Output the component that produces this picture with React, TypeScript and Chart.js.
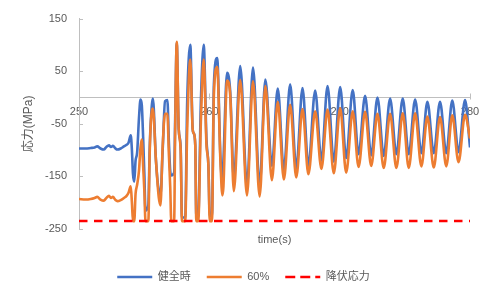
import React, { useEffect, useRef } from "react";
import { Chart, registerables } from "chart.js";

Chart.register(...registerables);

// time (s)
const times = [
  250.0, 250.5, 250.9, 251.2, 251.4, 251.65, 251.9, 252.1, 252.3, 252.45,
  252.6, 252.8, 252.95, 253.2, 253.45, 253.65, 253.8, 253.97, 254.06, 254.14,
  254.24, 254.34, 254.46, 254.6, 254.72, 254.82, 254.92, 255.02, 255.1, 255.32,
  255.42, 255.52, 255.67, 255.9, 256.12, 256.25, 256.42, 256.6, 256.78, 256.9,
  257.0, 257.08, 257.3, 257.38, 257.5, 257.65, 257.8, 257.9, 258.15, 258.3,
  258.54, 258.72, 258.8, 258.92, 259.0, 259.15, 259.35, 259.57, 259.78, 259.93,
  260.03, 260.2, 260.35, 260.6, 260.85, 261.0, 261.08, 261.36, 261.6, 261.88,
  262.37, 262.89, 263.35, 263.86, 264.3, 264.8, 265.25, 265.72, 266.2, 266.67,
  267.15, 267.6, 268.12, 268.6, 269.07, 269.55, 270.04, 270.5, 271.0, 271.45,
  271.95, 272.42, 272.9, 273.38, 273.87, 274.35, 274.84, 275.3, 275.79, 276.27,
  276.73, 277.22, 277.7, 278.18, 278.64, 279.12, 279.62, 280.0,
];

// 健全時 (MPa)
const healthy = [
  -97, -97, -96, -95, -93, -97, -99, -94, -91, -94,
  -92, -97, -99, -97, -93, -90, -86, -72, -100, -145,
  -160, -120, -105, -40, -4, -15, -75, -150, -215, -205,
  -100, -40, -2, -118, -178, -186, -100, -7, -5, -87,
  -140, -148, -143, -40, 103, -60, -95, -228, -228, -9,
  100, -60, -68, -90, -225, -225, -9, 100, -80, -130,
  -225, -225, 25, 75, -112, -160, -120, 47, 12, -155,
  60, -168, 57, -168, 34, -130, 17, -138, 25, -135,
  18, -130, 13, -120, 22, -122, 20, -115, 14, -108,
  3, -110, 0, -111, -2, -108, -2, -108, -4, -106,
  -8, -106, -8, -106, -6, -104, -5, -95,
];

// 60% (MPa)
const reduced60 = [
  -193, -194, -193, -191, -189, -194, -196, -191, -187, -191,
  -189, -195, -197, -195, -191, -187, -181, -169, -200, -235,
  -235, -183, -166, -140, -95, -80, -130, -180, -235, -235,
  -110, -45, -21, -118, -190, -205, -93, -31, -31, -110,
  -170, -235, -235, -60, 106, -60, -100, -235, -235, -62,
  72, -60, -68, -90, -235, -235, -46, 72, -90, -130,
  -235, -235, 6, 58, -120, -186, -170, 32, 5, -178,
  33, -186, 31, -188, 22, -157, -8, -156, -14, -152,
  -22, -146, -26, -136, -23, -144, -20, -143, -26, -132,
  -27, -130, -31, -134, -31, -134, -30, -134, -30, -131,
  -36, -133, -37, -131, -34, -123, -33, -78,
];

// 降伏応力 (MPa)
const yieldTimes = [250, 280];
const yieldStress = [-235, -235];

const seriesLabels = ["健全時", "60%", "降伏応力"];
const xTitle = "time(s)";
const yTitle = "応力(MPa)";

const FONT = '"Liberation Sans", "Noto Sans CJK JP", sans-serif';
const TEXT = "#595959";
const AXIS = "#BFBFBF";

const tickMarks = {
  id: "tickMarks",
  beforeDatasetsDraw(chart: any) {
    const { ctx } = chart;
    const xs = chart.scales.x;
    const ys = chart.scales.y;
    const y0 = ys.getPixelForValue(0);
    ctx.save();
    ctx.strokeStyle = AXIS;
    ctx.lineWidth = 1;
    ctx.beginPath();
    ys.ticks.forEach((t: any) => {
      const py = Math.round(ys.getPixelForValue(t.value)) + 0.5;
      ctx.moveTo(ys.right, py);
      ctx.lineTo(ys.right + 4, py);
    });
    xs.ticks.forEach((t: any) => {
      if (t.value === xs.min) return;
      const px = Math.round(xs.getPixelForValue(t.value)) + 0.5;
      ctx.moveTo(px, y0 - 4);
      ctx.lineTo(px, y0 + 2);
    });
    ctx.stroke();
    ctx.restore();
  },
};

export default function App() {
  const ref = useRef<HTMLCanvasElement>(null);

  useEffect(() => {
    if (!ref.current) return;
    const toXY = (xs: number[], ys: number[]) => xs.map((x, i) => ({ x, y: ys[i] }));
    const font = { size: 11, family: FONT };
    const chart = new Chart(ref.current, {
      type: "line",
      data: {
        datasets: [
          {
            label: seriesLabels[2],
            data: toXY(yieldTimes, yieldStress),
            borderColor: "#FF0000",
            backgroundColor: "#FF0000",
            borderWidth: 2.5,
            borderDash: [8.5, 6.5],
            pointRadius: 0,
            fill: false,
          },
          {
            label: seriesLabels[1],
            data: toXY(times, reduced60),
            borderColor: "#ED7D31",
            backgroundColor: "#ED7D31",
            borderWidth: 2.6,
            pointRadius: 0,
            fill: false,
            cubicInterpolationMode: "monotone",
          },
          {
            label: seriesLabels[0],
            data: toXY(times, healthy),
            borderColor: "#4472C4",
            backgroundColor: "#4472C4",
            borderWidth: 2.6,
            pointRadius: 0,
            fill: false,
            cubicInterpolationMode: "monotone",
          },
        ],
      } as any,
      options: {
        animation: false,
        responsive: true,
        maintainAspectRatio: false,
        layout: { padding: { left: 17, right: 25, top: 15, bottom: 4.5 } },
        plugins: {
          legend: {
            position: "bottom",
            labels: {
              boxWidth: 35,
              boxHeight: 0,
              padding: 16,
              color: TEXT,
              font,
              sort: (a: any, b: any) => b.datasetIndex - a.datasetIndex,
            },
          },
          tooltip: { enabled: false },
        },
        scales: {
          x: {
            type: "linear",
            min: 250,
            max: 280,
            position: { y: 0 },
            ticks: { stepSize: 10, color: TEXT, font, padding: 8, maxRotation: 0 },
            grid: { display: false, drawTicks: false },
            border: { display: true, color: AXIS, width: 1 },
          },
          xTitle: {
            type: "linear",
            axis: "x",
            position: "bottom",
            display: true,
            ticks: { display: false },
            grid: { display: false, drawTicks: false },
            border: { display: false },
            title: { display: true, text: xTitle, color: TEXT, font, padding: { top: 4, bottom: 9.3 } },
          },
          y: {
            type: "linear",
            min: -250,
            max: 150,
            position: "left",
            afterFit: (s: any) => {
              s.width = 62;
            },
            ticks: { stepSize: 100, color: TEXT, font, padding: 12 },
            grid: { display: false, drawTicks: false },
            border: { display: true, color: AXIS, width: 1 },
            title: { display: true, text: yTitle, color: TEXT, font: { size: 12, family: FONT }, padding: { top: 4, bottom: 4 } },
          },
        },
      } as any,
      plugins: [tickMarks],
    });
    return () => chart.destroy();
  }, []);

  return (
    <div style={{ position: "fixed", left: 0, top: 0, width: 495, height: 297, background: "#fff" }}>
      <canvas ref={ref} />
    </div>
  );
}
